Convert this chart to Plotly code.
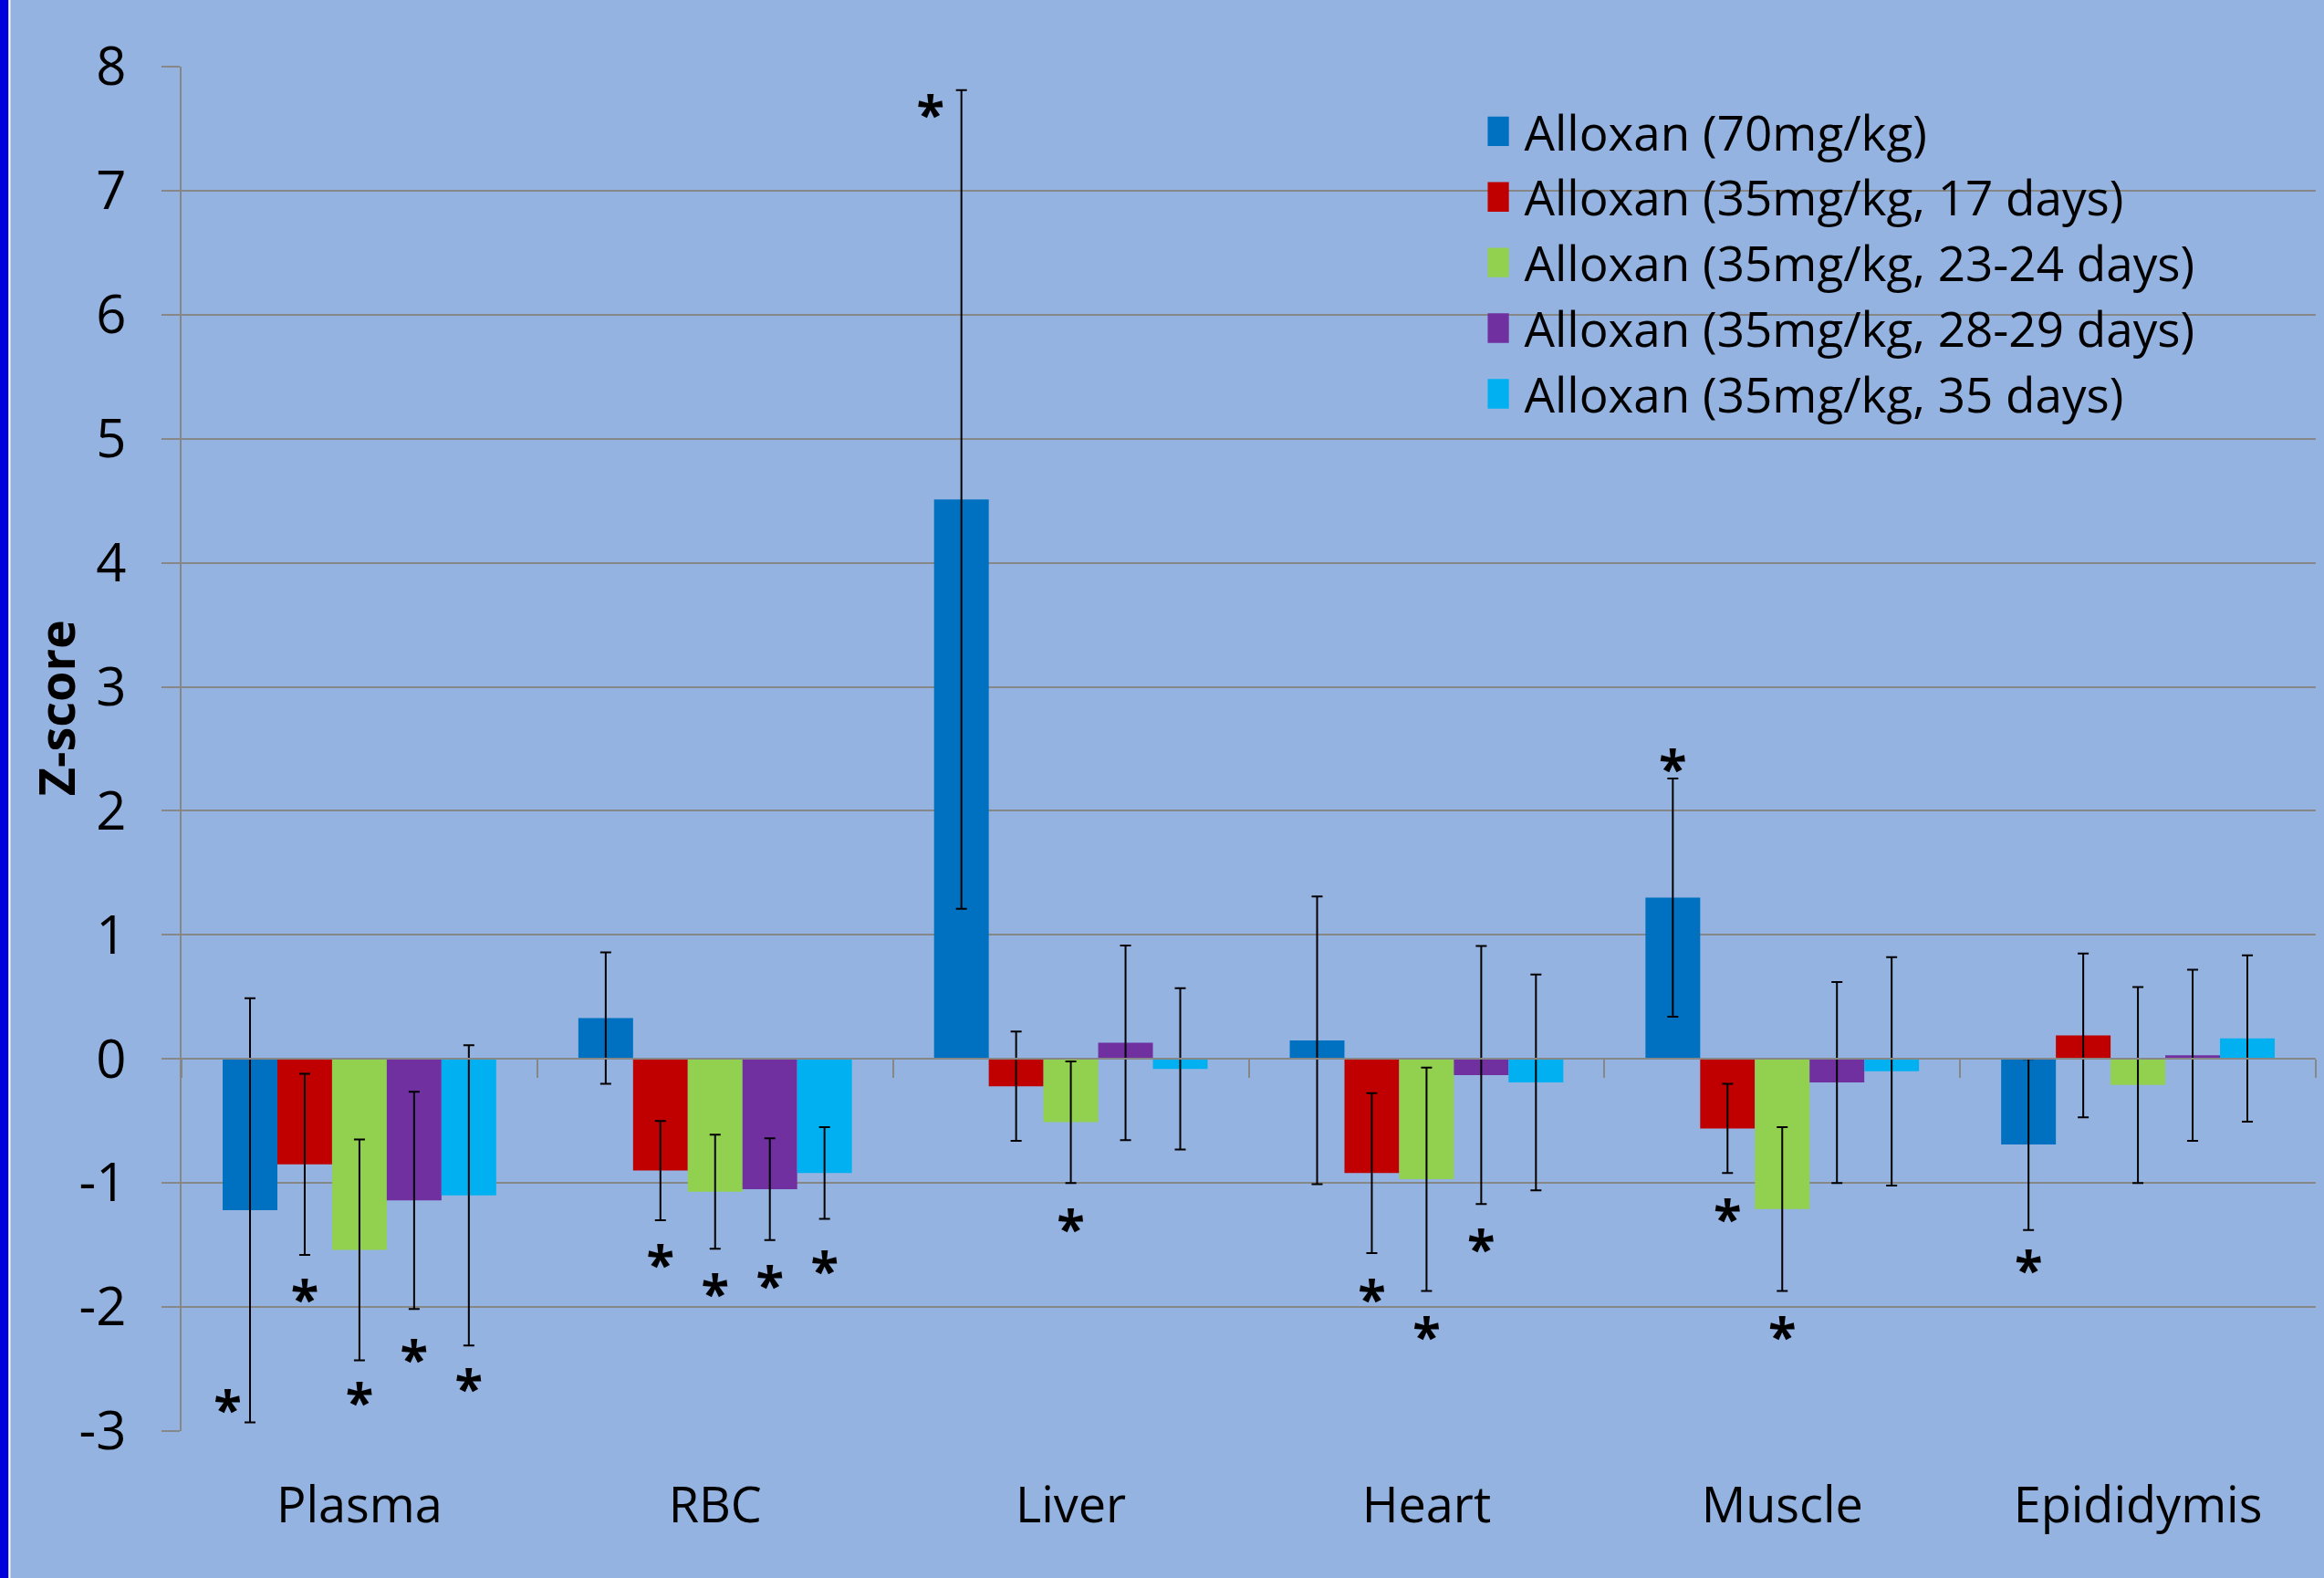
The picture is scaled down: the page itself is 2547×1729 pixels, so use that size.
import plotly.graph_objects as go

categories = ["Plasma", "RBC", "Liver", "Heart", "Muscle", "Epididymis"]
series_names = [
    "Alloxan (70mg/kg)",
    "Alloxan (35mg/kg, 17 days)",
    "Alloxan (35mg/kg, 23-24 days)",
    "Alloxan (35mg/kg, 28-29 days)",
    "Alloxan (35mg/kg, 35 days)",
]
colors = ["#0070C0", "#C00000", "#92D050", "#7030A0", "#00B0F0"]

z_70 = [-1.22, 0.33, 4.51, 0.15, 1.30, -0.69]
z_17 = [-0.85, -0.90, -0.22, -0.92, -0.56, 0.19]
z_23 = [-1.54, -1.07, -0.51, -0.97, -1.21, -0.21]
z_28 = [-1.14, -1.05, 0.13, -0.13, -0.19, 0.03]
z_35 = [-1.10, -0.92, -0.08, -0.19, -0.10, 0.165]

err_70 = [1.71, 0.53, 3.30, 1.16, 0.96, 0.69]
err_17 = [0.73, 0.40, 0.44, 0.645, 0.36, 0.66]
err_23 = [0.89, 0.46, 0.49, 0.90, 0.66, 0.79]
err_28 = [0.875, 0.41, 0.785, 1.04, 0.81, 0.69]
err_35 = [1.21, 0.37, 0.65, 0.87, 0.92, 0.67]

# significance asterisks: visual centre of each "*" (None = no asterisk)
star_70 = [-2.76, None, 7.68, None, 2.41, -1.63]
star_17 = [-1.87, -1.59, None, -1.87, -1.22, None]
star_23 = [-2.70, -1.82, -1.30, -2.17, -2.17, None]
star_28 = [-2.35, -1.76, None, -1.46, None, None]
star_35 = [-2.59, -1.64, None, None, None, None]
star_text_70 = ["*\u2009", "*", "*\u2009\u2009", "*", "*", "*"]
star_pos_70 = ["middle left", "middle center", "middle left", "middle center", "middle center", "middle center"]

y_ticks = [-3, -2, -1, 0, 1, 2, 3, 4, 5, 6, 7, 8]
y_ticktext = [str(v) for v in y_ticks]

values = [z_70, z_17, z_23, z_28, z_35]
errors = [err_70, err_17, err_23, err_28, err_35]
stars = [star_70, star_17, star_23, star_28, star_35]

BG = "#94B3E0"
GRID = "#878787"
FONT = "Open Sans"
STAR_SIZE = 56
STAR_GLYPH_OFFSET = 0.11  # the "*" glyph sits high in its text box

fig = go.Figure()
for name, col, vals, errs in zip(series_names, colors, values, errors):
    fig.add_trace(go.Bar(
        x=categories, y=vals, name=name, legendgroup=name,
        marker=dict(color=col, line=dict(width=0)),
        error_y=dict(type="data", array=errs, visible=True,
                     color="black", thickness=2, width=6),
    ))

for i, st in enumerate(stars):
    fig.add_trace(go.Scatter(
        x=categories,
        y=[None if v is None else v - STAR_GLYPH_OFFSET for v in st],
        mode="text",
        text=star_text_70 if i == 0 else ["*"] * len(categories),
        textposition=star_pos_70 if i == 0 else "middle center",
        textfont=dict(family=FONT, size=STAR_SIZE, color="black", weight="bold"),
        orientation="v", showlegend=False, hoverinfo="skip",
    ))

# helper trace for the category axis drawn at y = 0
fig.add_trace(go.Scatter(
    x=categories, y=[None] * len(categories), xaxis="x2", mode="markers",
    showlegend=False, hoverinfo="skip",
))

fig.update_layout(
    width=2547, height=1729,
    margin=dict(l=199, r=9, t=73, b=161),
    paper_bgcolor=BG, plot_bgcolor=BG,
    barmode="group", bargap=0.231, bargroupgap=0,
    scattermode="group",
    font=dict(family=FONT, color="black"),
    showlegend=True,
    legend=dict(
        x=0.612, y=0.980, xanchor="left", yanchor="top",
        bgcolor="rgba(0,0,0,0)", font=dict(family=FONT, size=53, color="black"),
        traceorder="normal", tracegroupgap=0, itemwidth=30,
    ),
    xaxis=dict(
        type="category", showgrid=False, showline=False, ticks="",
        zeroline=False, tickfont=dict(family=FONT, size=54, color="black"),
        ticklabelstandoff=45,
    ),
    xaxis2=dict(
        type="category", overlaying="x", anchor="free", position=3 / 11,
        side="bottom", categoryorder="array", categoryarray=categories,
        showticklabels=False, showgrid=False, zeroline=False,
        showline=True, linecolor=GRID, linewidth=2,
        ticks="outside", tickson="boundaries", ticklen=20, tickwidth=2,
        tickcolor=GRID, range=[-0.5, 5.5],
    ),
    yaxis=dict(
        range=[-3, 8], tickvals=y_ticks, ticktext=y_ticktext,
        showgrid=True, gridcolor=GRID, gridwidth=2,
        zeroline=False, showline=True, linecolor=GRID, linewidth=2,
        ticks="outside", ticklen=20, tickwidth=2, tickcolor=GRID,
        tickfont=dict(family=FONT, size=58, color="black"),
        ticklabelstandoff=27,
    ),
    annotations=[dict(
        text="<b>Z-score</b>", xref="paper", yref="paper",
        x=-0.0592, y=0.53, xanchor="center", yanchor="middle",
        textangle=-90, showarrow=False,
        font=dict(family=FONT, size=54, color="black"),
    )],
    shapes=[
        dict(type="rect", xref="paper", yref="paper", xsizemode="pixel",
             xanchor=0, x0=-200, x1=-189.6, y0=-1, y1=2,
             fillcolor="#0000DC", line=dict(width=0), layer="above"),
        dict(type="rect", xref="paper", yref="paper", xsizemode="pixel",
             xanchor=0, x0=-189.6, x1=-187.6, y0=-1, y1=2,
             fillcolor="white", line=dict(width=0), layer="above"),
    ],
)

post = """
document.querySelectorAll('.legend .legendpoints path').forEach(function(p){
  var t = p.getAttribute('transform') || '';
  if (t.indexOf('scale') < 0) { p.setAttribute('transform', t + ' translate(-13,0) scale(2.7)'); }
});
"""
fig.write_html("out.html", post_script=post)
